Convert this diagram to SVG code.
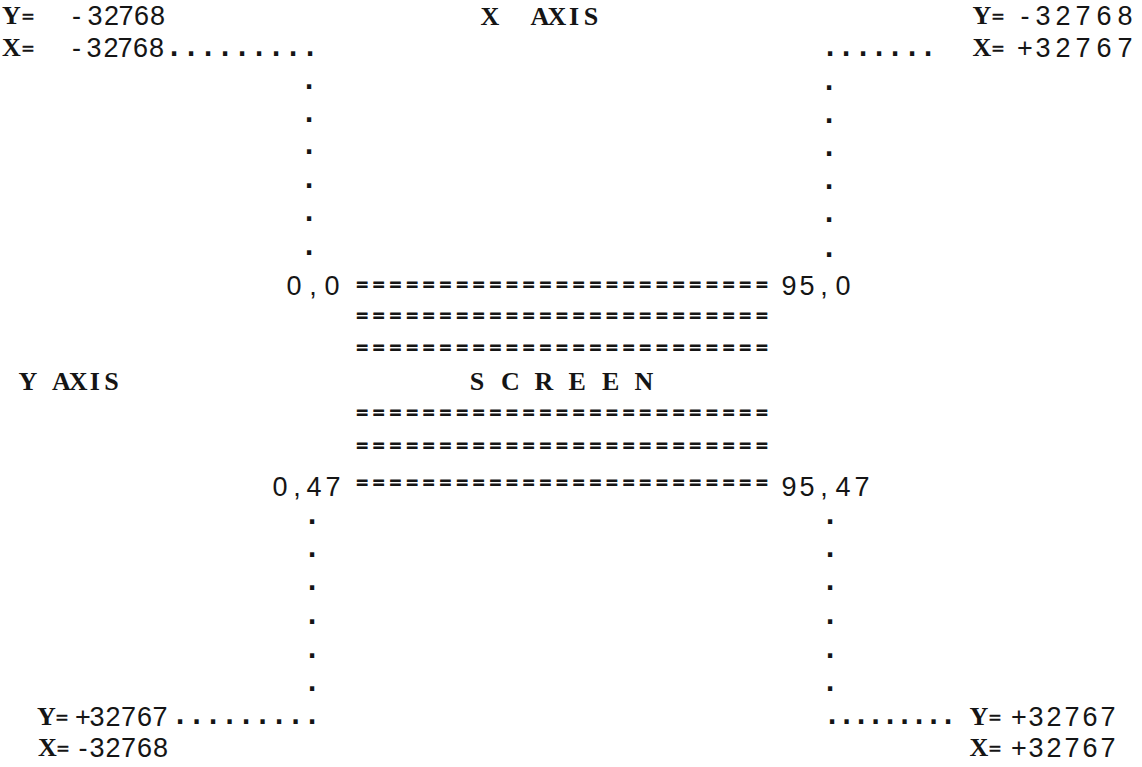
<svg xmlns="http://www.w3.org/2000/svg" width="1142" height="767" viewBox="0 0 1142 767">
<style>
  .s { font-family: "Liberation Serif", "Times New Roman", serif; font-weight: bold; font-size: 26px; fill: #151515; text-anchor: middle; }
  .se { font-size: 22px; stroke: #151515; stroke-width: 0.4px; }
  .d { font-family: "Liberation Sans", Arial, sans-serif; font-size: 27px; fill: #151515; text-anchor: middle; }
  .eq { font-family: "Liberation Serif", "Times New Roman", serif; font-weight: bold; font-size: 21px; fill: #151515; stroke: #151515; stroke-width: 0.9px; letter-spacing: 4.69px; }
  .dot { font-family: "DejaVu Sans", sans-serif; font-weight: bold; font-size: 24px; fill: #151515; text-anchor: middle; }
</style>
<rect width="1142" height="767" fill="#ffffff"/>

<g id="top-left-corner">
  <text class="s" y="24"><tspan x="11.5">Y</tspan><tspan class="se" x="28">=</tspan></text>
  <text class="d" x="76.5 95 111.5 126 141.5 157.5" y="25">-32768</text>
  <text class="s" y="56"><tspan x="11.5">X</tspan><tspan class="se" x="28">=</tspan></text>
  <text class="d" x="76.5 94 111 125 140.5 156.5" y="57">-32768</text>
</g>

<g id="x-axis-label">
  <text class="s" xml:space="preserve" x="490 507 523 540 557 574 591" y="25">X  AXIS</text>
</g>

<g id="top-right-corner">
  <text class="s" y="24"><tspan x="982">Y</tspan><tspan class="se" x="998">=</tspan></text>
  <text class="d" x="1025 1043 1063 1083 1104 1125" y="25">-32768</text>
  <text class="s" y="56"><tspan x="982">X</tspan><tspan class="se" x="998">=</tspan></text>
  <text class="d" x="1025 1043 1063 1083 1104 1125" y="57">+32767</text>
</g>

<g id="y-axis-label">
  <text class="s" x="28 44.7 61.4 78.1 94.8 111.5" y="390">Y AXIS</text>
</g>

<g id="screen">
  <text class="d" x="294 313 332" y="295">0,0</text>
  <text class="d" x="789 807 824 843" y="295">95,0</text>
  <text class="eq" x="356.2" y="292">=========================</text>
  <text class="eq" x="356.2" y="323">=========================</text>
  <text class="eq" x="356.2" y="355">=========================</text>
  <text class="s" x="477 493.7 510.4 527.1 543.8 560.5 577.2 593.9 610.6 627.3 644" y="390">S C R E E N</text>
  <text class="eq" x="356.2" y="420">=========================</text>
  <text class="eq" x="356.2" y="453">=========================</text>
  <text class="eq" x="356.2" y="490">=========================</text>
  <text class="d" x="280 297 314 333" y="496">0,47</text>
  <text class="d" x="789 807 824 843 862" y="496">95,47</text>
</g>

<g id="bottom-left-corner">
  <text class="s" y="725"><tspan x="46.5">Y</tspan><tspan class="se" x="62">=</tspan></text>
  <text class="d" x="83 97 113 128.5 144.5 160" y="726">+32767</text>
  <text class="s" y="756"><tspan x="47.5">X</tspan><tspan class="se" x="63">=</tspan></text>
  <text class="d" x="83 97 113 128.5 144.5 160.5" y="757">-32768</text>
</g>

<g id="bottom-right-corner">
  <text class="s" y="725"><tspan x="979">Y</tspan><tspan class="se" x="995">=</tspan></text>
  <text class="d" x="1019 1036 1054 1072 1090 1108" y="726">+32767</text>
  <text class="s" y="756"><tspan x="979">X</tspan><tspan class="se" x="995">=</tspan></text>
  <text class="d" x="1019 1036 1054 1072 1090 1108" y="757">+32767</text>
</g>

<g id="connectors">
  <text class="dot" x="174 191 208 225 242 259 276 293 310" y="56">.........</text>
  <text class="dot" x="309" y="89">.</text>
  <text class="dot" x="309" y="122">.</text>
  <text class="dot" x="309" y="154">.</text>
  <text class="dot" x="309" y="188">.</text>
  <text class="dot" x="309" y="221">.</text>
  <text class="dot" x="309" y="255">.</text>

  <text class="dot" x="830 846 863 879 895 912 928" y="56">.......</text>
  <text class="dot" x="829" y="90">.</text>
  <text class="dot" x="829" y="123">.</text>
  <text class="dot" x="829" y="156">.</text>
  <text class="dot" x="829" y="189">.</text>
  <text class="dot" x="829" y="222">.</text>
  <text class="dot" x="829" y="257">.</text>

  <text class="dot" x="312" y="524">.</text>
  <text class="dot" x="312" y="557">.</text>
  <text class="dot" x="312" y="590">.</text>
  <text class="dot" x="312" y="624">.</text>
  <text class="dot" x="312" y="658">.</text>
  <text class="dot" x="312" y="691">.</text>
  <text class="dot" x="180 196.5 213 229.5 246 262.5 279 295.5 312" y="724">.........</text>

  <text class="dot" x="830" y="524">.</text>
  <text class="dot" x="830" y="557">.</text>
  <text class="dot" x="830" y="590">.</text>
  <text class="dot" x="830" y="624">.</text>
  <text class="dot" x="830" y="658">.</text>
  <text class="dot" x="830" y="691">.</text>
  <text class="dot" x="832 846.5 861 875.5 890 904.5 919 933.5 948" y="724">.........</text>
</g>
</svg>
